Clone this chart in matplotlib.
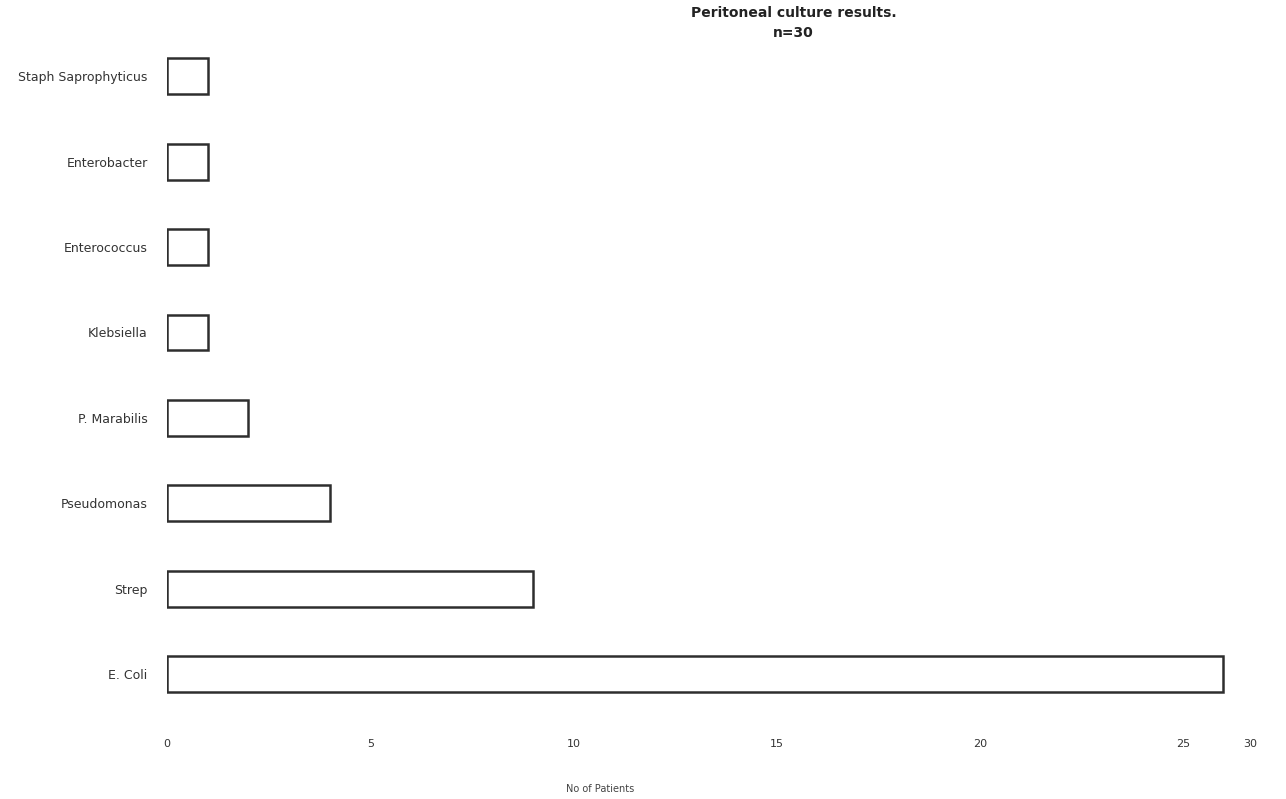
import numpy as np
import matplotlib
matplotlib.use("Agg")
import matplotlib.pyplot as plt

organisms = ["E. Coli", "Strep", "Pseudomonas", "P. Marabilis", "Klebsiella",
             "Enterococcus", "Enterobacter", "Staph Saprophyticus"]
patients = [28, 9, 4, 2, 1, 1, 1, 1]
xtick_values = [0, 5, 10, 15, 20, 25, 30]
xtick_labels = ["0", "5", "10", "15", "20", "25", "30"]
title_text = "Peritoneal culture results.\nn=30"
xlabel_text = "No of Patients"

# The printed axis is linear from 0 to 25 and squeezed between 25 and 30
scale_pts = [0, 25, 30]
scale_pix = [0, 25, 26.65]

def fwd(v):
    return np.interp(v, scale_pts, scale_pix)

def inv(v):
    return np.interp(v, scale_pix, scale_pts)

plt.rcParams['font.family'] = ['DejaVu Sans']

fig = plt.figure(figsize=(12.86, 7.99), dpi=100)
ax = fig.add_axes([0.1299, 0.0816, 0.8422, 0.8871])
ax.set_xscale('function', functions=(fwd, inv))

y = np.arange(len(organisms))
ax.barh(y, patients, height=0.42, left=0, color="white",
        edgecolor="#2e2e2e", linewidth=1.8)

ax.set_xlim(0, 30)
ax.set_ylim(-0.7, 7.6)
ax.set_xticks(xtick_values)
ax.set_xticklabels(xtick_labels, fontsize=8, color="#333333")
ax.set_yticks(y)
ax.set_yticklabels(organisms, fontsize=9, color="#333333")
ax.tick_params(axis='both', length=0)
ax.tick_params(axis='y', pad=14)
ax.tick_params(axis='x', pad=4)
for s in ax.spines.values():
    s.set_visible(False)

ax.set_xlabel(xlabel_text, fontsize=7, color="#444444")
ax.xaxis.set_label_coords(0.40, -0.071)

fig.text(0.617, 0.993, title_text, ha="center", va="top", fontsize=10,
         fontweight="semibold", color="#222222", linespacing=1.6)

fig.savefig("out.png", dpi=100, facecolor="white")
